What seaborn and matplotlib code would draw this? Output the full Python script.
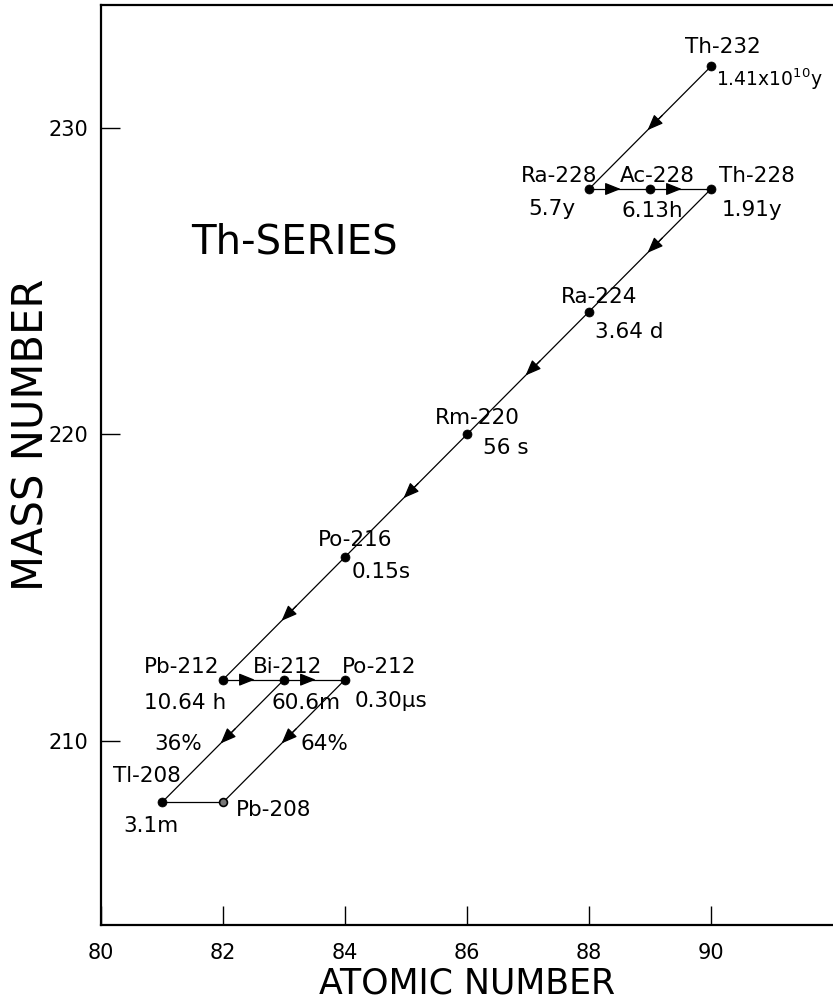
import matplotlib
matplotlib.use("Agg")
import matplotlib.pyplot as plt
import numpy as np
import pandas as pd
import seaborn as sns

# ---------------- data ----------------
isotopes = ["Th-232", "Ra-228", "Ac-228", "Th-228", "Ra-224", "Rm-220",
            "Po-216", "Pb-212", "Bi-212", "Po-212", "Tl-208", "Pb-208"]
atomic_number = [90, 88, 89, 90, 88, 86, 84, 82, 83, 84, 81, 82]
mass_number = [232, 228, 228, 228, 224, 220, 216, 212, 212, 212, 208, 208]
half_lives = [r"1.41x10$^{10}$y", "5.7y", "6.13h", "1.91y", "3.64 d", "56 s",
              "0.15s", "10.64 h", "60.6m", "0.30\u03bcs", "3.1m", ""]
decay_from = ["Th-232", "Ra-228", "Ac-228", "Th-228", "Ra-224", "Rm-220",
              "Po-216", "Pb-212", "Bi-212", "Bi-212", "Po-212", "Tl-208"]
decay_to = ["Ra-228", "Ac-228", "Th-228", "Ra-224", "Rm-220", "Po-216",
            "Pb-212", "Bi-212", "Po-212", "Tl-208", "Pb-208", "Pb-208"]
decay_arrow = [True, True, True, True, True, True, True, True, True, True, True, False]
branch_from = ["Bi-212", "Po-212"]
branch_to = ["Tl-208", "Pb-208"]
branch_labels = ["36%", "64%"]
stable = ["Pb-208"]
x_ticks = [80, 82, 84, 86, 88, 90]
y_ticks = [210, 220, 230]
series_title = "Th-SERIES"
x_title = "ATOMIC NUMBER"
y_title = "MASS NUMBER"

# ---------------- style ----------------
sns.set_style("ticks")
plt.rcParams["font.family"] = ["DejaVu Sans"]
plt.rcParams["mathtext.fontset"] = "dejavusans"
plt.rcParams["mathtext.default"] = "regular"
plt.rcParams["text.color"] = "black"
plt.rcParams["axes.labelcolor"] = "black"

nodes = pd.DataFrame({"iso": isotopes, "Z": atomic_number, "A": mass_number,
                      "life": half_lives})
pos = {r.iso: (r.Z, r.A) for r in nodes.itertuples()}

fig = plt.figure(figsize=(8.33, 10.07), dpi=100)
W, H = 833, 1007
ax = fig.add_axes([101 / W, (H - 925) / H, 732 / W, 920 / H])

# segments
seg_rows = []
for i, (a, b) in enumerate(zip(decay_from, decay_to)):
    seg_rows.append({"edge": i, "Z": pos[a][0], "A": pos[a][1], "k": 0})
    seg_rows.append({"edge": i, "Z": pos[b][0], "A": pos[b][1], "k": 1})
segs = pd.DataFrame(seg_rows)
sns.lineplot(data=segs, x="Z", y="A", units="edge", estimator=None, sort=False,
             color="black", lw=0.9, ax=ax, zorder=2, legend=False)

# arrow heads at segment midpoints
for a, b, arr in zip(decay_from, decay_to, decay_arrow):
    if not arr:
        continue
    x0, y0 = pos[a]
    x1, y1 = pos[b]
    tip = (x0 + 0.52 * (x1 - x0), y0 + 0.52 * (y1 - y0))
    tail = (x0 + 0.40 * (x1 - x0), y0 + 0.40 * (y1 - y0))
    ax.annotate("", xy=tip, xytext=tail,
                arrowprops=dict(arrowstyle="-|>,head_length=0.8,head_width=0.32",
                                color="black", lw=0.9, mutation_scale=12,
                                shrinkA=0, shrinkB=0), zorder=3)

# nodes
unstable_df = nodes[~nodes.iso.isin(stable)]
stable_df = nodes[nodes.iso.isin(stable)]
sns.scatterplot(data=unstable_df, x="Z", y="A", s=42, color="black",
                edgecolor="black", linewidth=0.5, ax=ax, zorder=4, legend=False)
sns.scatterplot(data=stable_df, x="Z", y="A", s=32, color="#777777",
                edgecolor="black", linewidth=1.2, ax=ax, zorder=4, legend=False)

# label layout (pixel offsets: dx right, dy down, baseline, size)
name_layout = {
    "Th-232": (12, -13, "center"), "Ra-228": (8, -7, "right"),
    "Ac-228": (7, -7, "center"), "Th-228": (8, -7, "left"),
    "Ra-224": (10, -9, "center"), "Rm-220": (10, -10, "center"),
    "Po-216": (10, -11, "center"), "Pb-212": (-4, -7, "right"),
    "Bi-212": (4, -7, "center"), "Po-212": (-3, -7, "left"),
    "Tl-208": (19, -20, "right"), "Pb-208": (13, 14, "left"),
}
life_layout = {
    "Th-232": (5, 20, "left"), "Ra-228": (-14, 26, "right"),
    "Ac-228": (2, 28, "center"), "Th-228": (11, 27, "left"),
    "Ra-224": (6, 26, "left"), "Rm-220": (16, 20, "left"),
    "Po-216": (7, 21, "left"), "Pb-212": (3, 29, "right"),
    "Bi-212": (22, 29, "center"), "Po-212": (10, 27, "left"),
    "Tl-208": (17, 30, "right"), "Pb-208": (0, 0, "left"),
}
FS = 15.5
for r in nodes.itertuples():
    dx, dy, ha = name_layout[r.iso]
    ax.annotate(r.iso, (r.Z, r.A), xytext=(dx * 0.72, -dy * 0.72),
                textcoords="offset points", ha=ha, va="baseline", fontsize=FS)
    if r.life:
        dx, dy, ha = life_layout[r.iso]
        fs = 13.5 if "$" in r.life else FS
        ax.annotate(r.life, (r.Z, r.A), xytext=(dx * 0.72, -dy * 0.72),
                    textcoords="offset points", ha=ha, va="baseline", fontsize=fs)

branch_layout = [(-21, 9, "right"), (17, 9, "left")]
for a, b, lab, (dx, dy, ha) in zip(branch_from, branch_to, branch_labels, branch_layout):
    mx = (pos[a][0] + pos[b][0]) / 2
    my = (pos[a][1] + pos[b][1]) / 2
    ax.annotate(lab, (mx, my), xytext=(dx * 0.72, -dy * 0.72),
                textcoords="offset points", ha=ha, va="baseline", fontsize=FS)

ax.text(0.264, 0.742, series_title, transform=ax.transAxes, ha="center",
        va="center", fontsize=29)

# axes
ax.set_xlim(80, 92)
ax.set_ylim(204, 234)
ax.set_xticks(x_ticks)
ax.set_yticks(y_ticks)
ax.tick_params(axis="both", direction="in", length=14, width=1.0,
               labelsize=15, colors="black")
ax.tick_params(axis="x", pad=13)
ax.tick_params(axis="y", pad=9)
for s in ["left", "bottom", "top"]:
    ax.spines[s].set_linewidth(1.6)
    ax.spines[s].set_color("black")
ax.spines["right"].set_visible(False)

ax.set_xlabel(x_title, fontsize=25)
ax.set_ylabel(y_title, fontsize=30)
ax.xaxis.set_label_coords(0.5, -0.045)
ax.yaxis.set_label_coords(-0.066, 0.533)

fig.savefig("out.png", dpi=100)
